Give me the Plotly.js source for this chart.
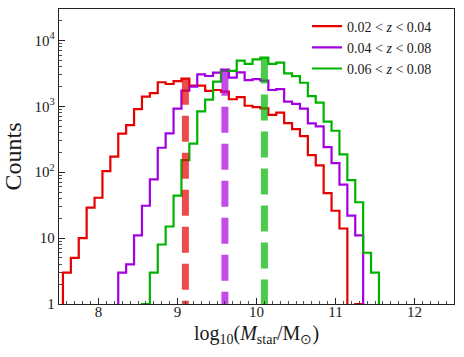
<!DOCTYPE html>
<html>
<head>
<meta charset="utf-8">
<script src="https://cdn.plot.ly/plotly-3.0.1.min.js"></script>
<style>
  html, body { margin: 0; padding: 0; background: #fff; }
  #chart { width: 464px; height: 357px; }
</style>
</head>
<body>
<div id="chart"></div>
<script>
// ---- data ----
const binEdges = [7.55, 7.65, 7.75, 7.85, 7.95, 8.05, 8.15, 8.25, 8.35, 8.45,
                  8.55, 8.65, 8.75, 8.85, 8.95, 9.05, 9.15, 9.25, 9.35, 9.45,
                  9.55, 9.65, 9.75, 9.85, 9.95, 10.05, 10.15, 10.25, 10.35, 10.45,
                  10.55, 10.65, 10.75, 10.85, 10.95, 11.05, 11.15, 11.25, 11.35, 11.45,
                  11.55];
const seriesNames = ['0.02 &lt; <i>z</i> &lt; 0.04', '0.04 &lt; <i>z</i> &lt; 0.08', '0.06 &lt; <i>z</i> &lt; 0.08'];
const countsLow = [3, 5, 10, 29, 41, 104, 172, 385, 518, 905,
                   1400, 1590, 2320, 2180, 2420, 2630, 2060, 2060, 1710, 1770,
                   1670, 1280, 1380, 1020, 975, 930, 740, 800, 555, 450,
                   354, 182, 127, 48, 26, 14, 0, 1, 0, 0];
const countsMid = [0, 0, 0, 0, 0, 0, 0, 3, 4, 11,
                   31, 78, 235, 389, 920, 1725, 1985, 3055, 2885, 3240,
                   3600, 2717, 3275, 2500, 2580, 2460, 1770, 1820, 1175, 1090,
                   925, 552, 495, 240, 137, 65, 22, 11, 0, 0];
const countsHigh = [0, 0, 0, 0, 0, 0, 0, 0, 0, 0,
                    1, 3, 8, 15, 44, 153, 272, 840, 1260, 2365,
                    3450, 3450, 4950, 4420, 5160, 5500, 4400, 4600, 3170, 2880,
                    2280, 1433, 1135, 584, 426, 187, 76, 35, 6, 3];
const medianMass = [9.1, 9.6, 10.1];
const xTickVals = [8, 9, 10, 11, 12];
const yTickVals = [1, 10, 100, 1000, 10000];
const yTickText = ['1', '10', '10<sup>2</sup>', '10<sup>3</sup>', '10<sup>4</sup>'];

// ---- styling ----
const lineColors = ['#e60000', '#a300e0', '#00b300'];
const dashColors = ['rgba(230,0,0,0.7)', 'rgba(170,0,224,0.7)', 'rgba(0,179,0,0.7)'];
const FONT = 'Liberation Serif, Times New Roman, serif';
const FLOOR = 0.1; // below the visible axis range (zero counts are masked in a log plot)

function stepTrace(counts, color, name) {
  let first = counts.findIndex(c => c > 0);
  let last = counts.length - 1;
  while (counts[last] <= 0) last--;
  const x = [binEdges[first]], y = [FLOOR];
  for (let i = first; i <= last; i++) {
    x.push(binEdges[i]);
    y.push(counts[i] > 0 ? counts[i] : FLOOR);
  }
  x.push(binEdges[last + 1]);
  y.push(FLOOR);
  return {
    type: 'scatter', mode: 'lines', x: x, y: y, name: name,
    line: {shape: 'hv', color: color, width: 2.2},
    hoverinfo: 'skip'
  };
}

function medianTrace(m, counts, color) {
  const top = Math.max.apply(null, counts);
  return {
    type: 'scatter', mode: 'lines', x: [m, m], y: [top, 1],
    showlegend: false, hoverinfo: 'skip',
    line: {color: color, width: 7, dash: '26px,11px'}
  };
}

const allCounts = [countsLow, countsMid, countsHigh];
const traces = [];
for (let k = 0; k < 3; k++) traces.push(stepTrace(allCounts[k], lineColors[k], seriesNames[k]));
for (let k = 0; k < 3; k++) traces.push(medianTrace(medianMass[k], allCounts[k], dashColors[k]));

const layout = {
  width: 464, height: 357,
  margin: {l: 59, r: 10, t: 9, b: 53, pad: 0},
  paper_bgcolor: '#fff', plot_bgcolor: '#fff',
  font: {family: FONT, color: '#1a1a1a', size: 15},
  showlegend: true,
  legend: {
    x: 0.628, y: 0.995, xanchor: 'left', yanchor: 'top',
    bgcolor: 'rgba(255,255,255,0)', borderwidth: 0,
    font: {family: FONT, size: 14, color: '#1a1a1a'},
    tracegroupgap: 0
  },
  xaxis: {
    range: [7.5, 12.5], tickmode: 'array', tickvals: xTickVals,
    ticks: 'inside', ticklen: 6, tickwidth: 1, tickcolor: '#222',
    ticklabelstandoff: -6,
    minor: {ticks: 'inside', ticklen: 3, tickwidth: 0.8, tickcolor: '#222', dtick: 0.1, showgrid: false},
    showline: true, mirror: true, linecolor: '#222', linewidth: 1.3,
    showgrid: false, zeroline: false,
    tickfont: {family: FONT, size: 15, color: '#1a1a1a'},
    title: {text: 'log<sub>10</sub>(<i>M</i><sub>star</sub>/M<sub>⊙</sub>)',
            font: {family: FONT, size: 20, color: '#1a1a1a'}, standoff: 6}
  },
  yaxis: {
    type: 'log', range: [0, 4.477], tickmode: 'array', tickvals: yTickVals, ticktext: yTickText,
    ticks: 'inside', ticklen: 6, tickwidth: 1, tickcolor: '#222',
    minor: {ticks: 'inside', ticklen: 3, tickwidth: 0.8, tickcolor: '#222', dtick: 'D1', showgrid: false},
    showline: true, mirror: true, linecolor: '#222', linewidth: 1.3,
    showgrid: false, zeroline: false,
    tickfont: {family: FONT, size: 15, color: '#1a1a1a'},
    title: {text: 'Counts', font: {family: FONT, size: 24, color: '#1a1a1a'}, standoff: 8}
  }
};

Plotly.newPlot('chart', traces, layout, {staticPlot: true, displayModeBar: false});
</script>
</body>
</html>
